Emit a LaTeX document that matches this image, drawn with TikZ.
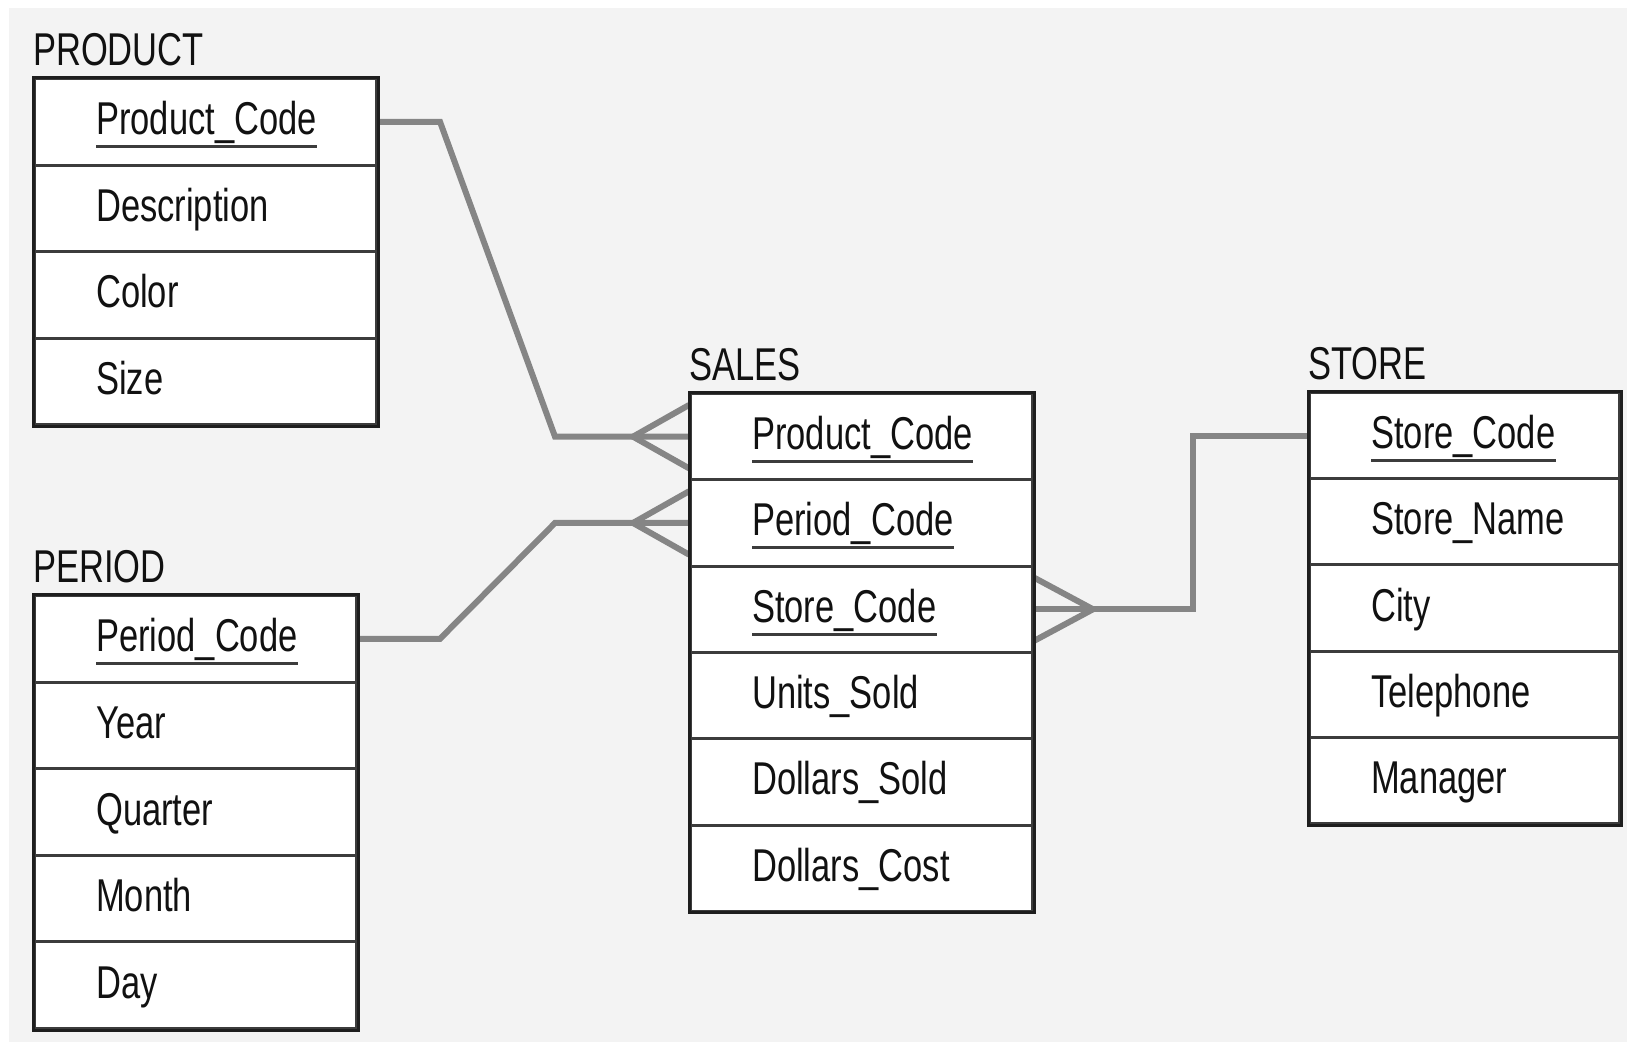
\documentclass[tikz,border=0pt]{standalone}
\usepackage{fontspec}
\setmainfont[FakeStretch=0.75]{Liberation Sans}
\usetikzlibrary{calc,backgrounds}
\definecolor{bggray}{HTML}{F3F3F3}
\definecolor{connc}{HTML}{858585}
\definecolor{framec}{HTML}{1E1E1E}
\definecolor{cellc}{HTML}{3C3C3C}
\definecolor{textc}{HTML}{111111}
\newcommand\erTable[7]{% name, x, y, width, row height, title, fields
  \node[tabletitle] (#1-t) at (#2,{#3-12}) {#6};
  \foreach \f [count=\i] in {#7} {
    \node[cell, minimum width=#4pt, minimum height=#5pt] (#1-\i) at ({#2},{#3+(\i-1)*#5}) {};
    \node[field] (#1-\i-txt) at ($(#1-\i.west)+(63,13)$) {\f};
  }
}
\begin{document}
\begin{tikzpicture}[x=1pt,y=-1pt,
  tabletitle/.style={anchor=base west, inner sep=0pt, text=textc, font=\fontsize{46}{50}\selectfont},
  field/.style={anchor=base west, inner sep=0pt, text=textc, font=\fontsize{46}{50}\selectfont},
  cell/.style={draw=cellc, line width=3pt, fill=white, inner sep=0pt, anchor=north west},
  frame/.style={draw=framec, line width=3pt},
  conn/.style={draw=connc, line width=6pt, line join=miter},
  ul/.style={draw=cellc, line width=3pt}]
\useasboundingbox (0,0) rectangle (1627,1042);
\begin{pgfonlayer}{background}
  \fill[bggray] (9,8) rectangle (1627,1042);
\end{pgfonlayer}

\erTable{prod}{33}{77}{342}{86.5}{PRODUCT}{Product\_Code,Description,Color,Size}
\erTable{period}{33}{594}{322}{86.6}{PERIOD}{Period\_Code,Year,Quarter,Month,Day}
\erTable{sales}{689}{392}{342}{86.3}{SALES}{Product\_Code,Period\_Code,Store\_Code,Units\_Sold,Dollars\_Sold,Dollars\_Cost}
\erTable{store}{1308}{391}{310}{86.2}{STORE}{Store\_Code,Store\_Name,City,Telephone,Manager}

\draw[frame] (prod-1.north west) rectangle (prod-4.south east);
\draw[frame] (period-1.north west) rectangle (period-5.south east);
\draw[frame] (sales-1.north west) rectangle (sales-6.south east);
\draw[frame] (store-1.north west) rectangle (store-5.south east);

\foreach \n in {prod-1-txt,period-1-txt,sales-1-txt,sales-2-txt,sales-3-txt,store-1-txt}
  \draw[ul] ([yshift=-12pt]\n.base west) -- ([yshift=-12pt]\n.base east);

\begin{pgfonlayer}{background}
  % PRODUCT -> SALES
  \draw[conn] (prod-1.east) -- ++(62,0) -- ($(sales-1.west)+(-134,0)$) -- (sales-1.west);
  \draw[conn] ($(sales-1.north west)+(0,13)$) -- ($(sales-1.west)+(-56,0)$) -- ($(sales-1.south west)+(0,-13)$);
  % PERIOD -> SALES
  \draw[conn] (period-1.east) -- ++(82,0) -- ($(sales-2.west)+(-134,0)$) -- (sales-2.west);
  \draw[conn] ($(sales-2.north west)+(0,13)$) -- ($(sales-2.west)+(-56,0)$) -- ($(sales-2.south west)+(0,-13)$);
  % SALES -> STORE
  \draw[conn] (sales-3.east) -- ($(sales-3.east)+(159,0)$) |- (store-1.west);
  \draw[conn] ($(sales-3.north east)+(0,13)$) -- ($(sales-3.east)+(59,0)$) -- ($(sales-3.south east)+(0,-13)$);
\end{pgfonlayer}
\end{tikzpicture}
\end{document}
